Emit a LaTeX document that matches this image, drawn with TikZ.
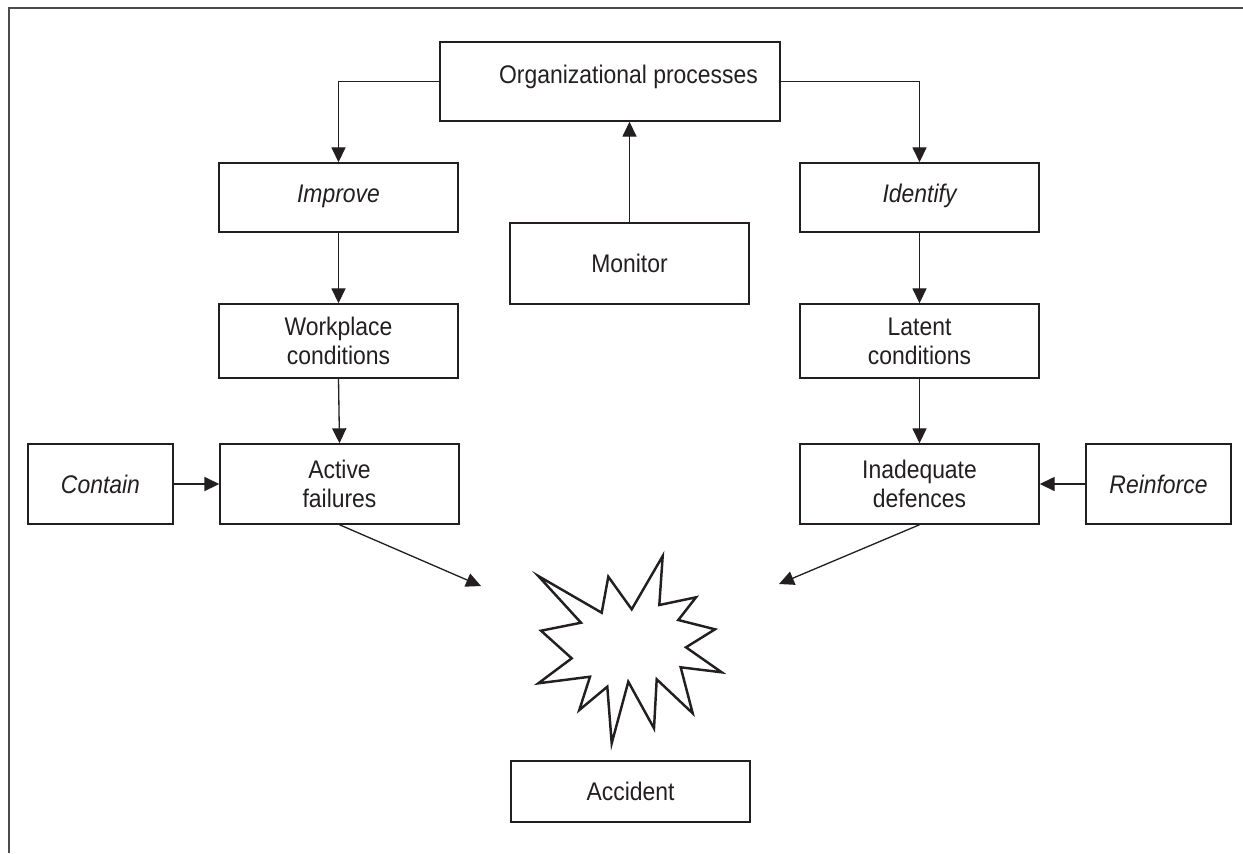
\documentclass[tikz,border=0pt]{standalone}
\usepackage{fontspec}
\setmainfont{Liberation Sans}[FakeStretch=0.9]
\usetikzlibrary{arrows.meta}
\definecolor{ink}{HTML}{231F20}
\tikzset{
  box/.style={draw=ink, line width=0.85pt, rectangle, inner sep=0pt, align=center, text=ink,
              font=\fontsize{14.5}{16.5}\selectfont},
  wbox/.style={box, minimum width=4.78cm},
  sbox/.style={box, minimum width=2.9cm},
  arr/.style={draw=ink, line width=0.75pt, -{Triangle[length=8.5pt,width=8pt]}},
  frameline/.style={draw=black!70, line width=1.1pt},
  burst/.style={draw=ink, line width=1.4pt, line join=miter, miter limit=20}
}
\begin{document}
\begin{tikzpicture}[x=0.02cm, y=-0.02cm]
\useasboundingbox (0,0) rectangle (1243,853);
\draw[frameline] (9,853) -- (9,8) -- (1243,8);

\node[box, minimum width=6.8cm, minimum height=1.58cm] (org) at (610,81.5) {\hspace*{0.74cm}\raisebox{0.3cm}{Organizational processes}};
\node[wbox, minimum height=1.38cm] (improve) at (338.5,197.5) {\raisebox{0.15cm}{\itshape Improve}};
\node[wbox, minimum height=1.38cm] (identify) at (919.5,197.5) {\raisebox{0.15cm}{\itshape Identify}};
\node[wbox, minimum height=1.62cm] (monitor) at (629.5,263.5) {\raisebox{-0.1cm}{Monitor}};
\node[wbox, minimum height=1.48cm] (workplace) at (338.5,341) {Workplace\\conditions};
\node[wbox, minimum height=1.48cm] (latent) at (919.5,341) {Latent\\conditions};
\node[wbox, minimum height=1.6cm] (active) at (339.5,484) {Active\\failures};
\node[wbox, minimum height=1.6cm] (inadequate) at (919.5,484) {Inadequate\\defences};
\node[sbox, minimum height=1.6cm] (contain) at (100.5,484) {\itshape Contain};
\node[sbox, minimum height=1.6cm] (reinforce) at (1158.5,484) {\itshape Reinforce};
\node[wbox, minimum height=1.22cm] (accident) at (630.5,791.5) {Accident};

\draw[arr] (org.west) -| (improve.north);
\draw[arr] (org.east) -| (identify.north);
\draw[arr] (monitor.north) -- (monitor.north |- org.south);
\draw[arr] (improve.south) -- (workplace.north);
\draw[arr] (workplace.south) -- (active.north);
\draw[arr] (identify.south) -- (latent.north);
\draw[arr] (latent.south) -- (inadequate.north);
\draw[arr] (contain.east) -- (active.west);
\draw[arr] (reinforce.west) -- (inadequate.east);

\coordinate (leftend) at (481,586);
\coordinate (rightend) at (779,584);
\draw[arr] (active.south) -- (leftend);
\draw[arr] (inadequate.south) -- (rightend);

\draw[burst] (538.3,576) -- (601.7,612.7) -- (608.3,576.7) -- (631.7,609.3) -- (662.7,556)
  -- (659.3,605) -- (696,597.3) -- (678.3,620) -- (715,629.3) -- (686,647.3)
  -- (721.7,672.3) -- (680.7,667.3) -- (692.7,713.3) -- (656.7,679.3) -- (654,728.3)
  -- (628.3,681.7) -- (611.7,743.3) -- (607.3,686.7) -- (579.3,710) -- (590,676.7)
  -- (538.3,683.3) -- (571.7,658.3) -- (541,630.7) -- (581,622.7) -- cycle;
\end{tikzpicture}
\end{document}
